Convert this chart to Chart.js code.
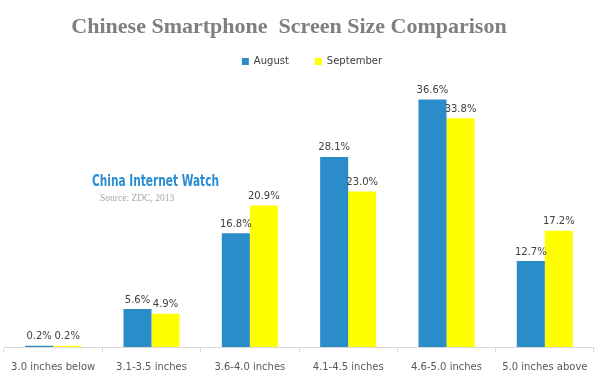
<!DOCTYPE html>
<html lang="en">
<head>
  <meta charset="UTF-8">
  <title>Chinese Smartphone Screen Size Comparison</title>
  <script src="https://cdn.jsdelivr.net/npm/chart.js"></script>
  <style>
    html, body {
      margin: 0;
      padding: 0;
      background: #fff;
    }
    .chart-container {
      width: 600px;
      height: 375px;
    }
  </style>
</head>
<body>
  <div class="chart-container">
    <canvas id="screenChart"></canvas>
  </div>

  <script>
    const sizeLabels = ['3.0 inches below', '3.1-3.5 inches', '3.6-4.0 inches', '4.1-4.5 inches', '4.6-5.0 inches', '5.0 inches above'];
    const augustShare = [0.2, 5.6, 16.8, 28.1, 36.6, 12.7];
    const septemberShare = [0.2, 4.9, 20.9, 23.0, 33.8, 17.2];

    // value labels above each bar
    const barLabels = {
      id: 'barLabels',
      afterDatasetsDraw(chart) {
        const ctx = chart.ctx;
        ctx.save();
        ctx.font = '10px "DejaVu Sans", sans-serif';
        ctx.fillStyle = '#404040';
        ctx.textAlign = 'center';
        ctx.textBaseline = 'bottom';
        chart.data.datasets.forEach((ds, i) => {
          chart.getDatasetMeta(i).data.forEach((bar, j) => {
            ctx.fillText(ds.data[j].toFixed(1) + '%', bar.x, bar.y - 4);
          });
        });
        ctx.restore();
      }
    };

    // title sits a bit left and legend a bit right of centre in the original
    const headerShift = {
      id: 'headerShift',
      afterLayout(chart) {
        chart.legend.left += 13;
        chart.legend.right += 13;
        chart.titleBlock.left -= 10;
        chart.titleBlock.right -= 10;
      }
    };

    // watermark
    const watermark = {
      id: 'watermark',
      afterDraw(chart) {
        const ctx = chart.ctx;
        ctx.save();
        ctx.textBaseline = 'middle';
        ctx.textAlign = 'left';
        ctx.fillStyle = '#2a8dd4';
        ctx.font = 'bold 15px "Liberation Sans Narrow", "DejaVu Sans Condensed", sans-serif';
        const w = ctx.measureText('China Internet Watch').width;
        ctx.translate(92, 182);
        ctx.scale(127 / w, 1);
        ctx.fillText('China Internet Watch', 0, 0);
        ctx.setTransform(1, 0, 0, 1, 0, 0);
        ctx.fillStyle = '#a6a6a6';
        ctx.font = '9.5px "Liberation Serif", serif';
        ctx.fillText('Source: ZDC, 2013', 100, 198);
        ctx.restore();
      }
    };

    const config = {
      type: 'bar',
      data: {
        labels: sizeLabels,
        datasets: [
          {
            label: 'August',
            data: augustShare,
            backgroundColor: '#2b8cca'
          },
          {
            label: 'September',
            data: septemberShare,
            backgroundColor: '#ffff00'
          }
        ]
      },
      options: {
        responsive: true,
        maintainAspectRatio: false,
        animation: false,
        categoryPercentage: 0.57,
        barPercentage: 1.0,
        layout: {
          padding: { left: 4, right: 6, bottom: -7, top: 0 }
        },
        plugins: {
          title: {
            display: true,
            text: 'Chinese Smartphone  Screen Size Comparison',
            color: '#7f7f7f',
            font: { family: 'Liberation Serif', size: 22, weight: 'bold' },
            padding: { top: 14, bottom: -10 }
          },
          legend: {
            display: true,
            labels: {
              boxWidth: 7,
              boxHeight: 7,
              padding: 26,
              color: '#404040',
              font: { family: 'DejaVu Sans', size: 10 }
            }
          },
          tooltip: { enabled: false }
        },
        scales: {
          x: {
            offset: true,
            grid: {
              display: true,
              drawOnChartArea: false,
              drawTicks: true,
              tickLength: 5,
              offset: true,
              color: '#d9d9d9'
            },
            border: { color: '#d9d9d9' },
            ticks: {
              color: '#595959',
              font: { family: 'DejaVu Sans', size: 10 },
              maxRotation: 0,
              autoSkip: false,
              padding: 9
            }
          },
          y: {
            display: false,
            min: 0,
            max: 40
          }
        }
      },
      plugins: [barLabels, headerShift, watermark]
    };

    const screenChart = new Chart(document.getElementById('screenChart'), config);
  </script>
</body>
</html>
